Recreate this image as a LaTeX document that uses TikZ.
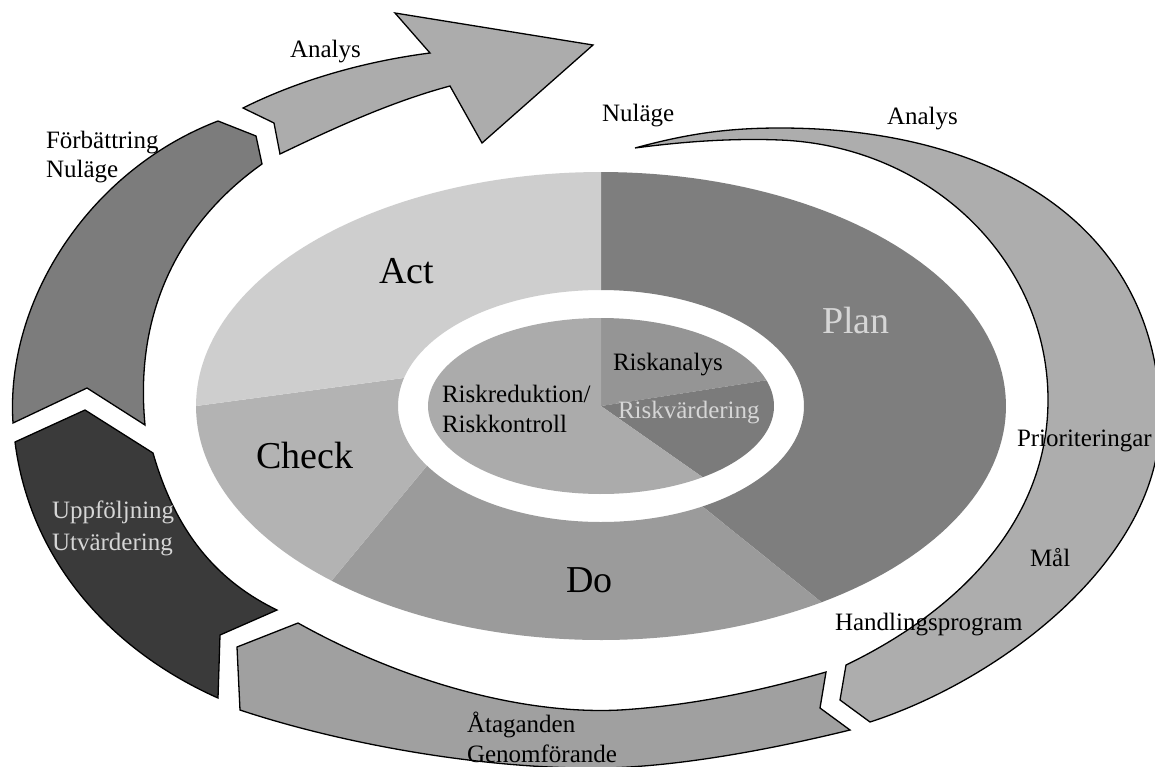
\documentclass[tikz,border=0pt]{standalone}
\usepackage{fontspec}
\setmainfont{Liberation Serif}
\definecolor{cAct}{HTML}{CECECE}
\definecolor{cPlan}{HTML}{7E7E7E}
\definecolor{cDo}{HTML}{9B9B9B}
\definecolor{cCheck}{HTML}{B3B3B3}
\definecolor{cRa}{HTML}{959595}
\definecolor{cRv}{HTML}{7B7B7B}
\definecolor{cRr}{HTML}{ABABAB}
\definecolor{cArrow}{HTML}{ACACAC}
\definecolor{cForb}{HTML}{7C7C7C}
\definecolor{cDark}{HTML}{3A3A3A}
\definecolor{cAtag}{HTML}{A0A0A0}
\definecolor{cCres}{HTML}{ADADAD}
\definecolor{cLightText}{HTML}{D6D6D6}
\begin{document}
\begin{tikzpicture}[x=1pt,y=-1pt,
  seg/.style={draw=black, line width=1.3pt},
  lab/.style={inner sep=0pt, outer sep=0pt, anchor=base west, font=\fontsize{25}{30}\selectfont},
  big/.style={inner sep=0pt, outer sep=0pt, anchor=base west, font=\fontsize{38}{44}\selectfont}]
\useasboundingbox (0,0) rectangle (1155,766);
\fill[white] (0,0) rectangle (1155,766);
\clip (0,0) rectangle (1155,766);

% ---------- central pie: outer ring ----------
\fill[cPlan] plot[domain=-90:57,samples=80,variable=\t] ({601+405*cos(\t)},{406+234*sin(\t)})
  -- plot[domain=60:-90,samples=80,variable=\t] ({601+203*cos(\t)},{406+116*sin(\t)}) -- cycle;
\fill[cDo] plot[domain=57:131.7,samples=60,variable=\t] ({601+405*cos(\t)},{406+234*sin(\t)})
  -- plot[domain=149:60,samples=60,variable=\t] ({601+203*cos(\t)},{406+116*sin(\t)}) -- cycle;
\fill[cCheck] plot[domain=131.7:180,samples=40,variable=\t] ({601+405*cos(\t)},{406+234*sin(\t)})
  -- plot[domain=194:149,samples=40,variable=\t] ({601+203*cos(\t)},{406+116*sin(\t)}) -- cycle;
\fill[cAct] plot[domain=180:270,samples=60,variable=\t] ({601+405*cos(\t)},{406+234*sin(\t)})
  -- plot[domain=270:194,samples=60,variable=\t] ({601+203*cos(\t)},{406+116*sin(\t)}) -- cycle;

% ---------- central pie: inner disc ----------
\fill[cRa] (601,406) -- plot[domain=-90:-17,samples=40,variable=\t] ({601+173*cos(\t)},{406+88*sin(\t)}) -- cycle;
\fill[cRv] (601,406) -- plot[domain=-17:54,samples=40,variable=\t] ({601+173*cos(\t)},{406+88*sin(\t)}) -- cycle;
\fill[cRr] (601,406) -- plot[domain=54:270,samples=90,variable=\t] ({601+173*cos(\t)},{406+88*sin(\t)}) -- cycle;

% ---------- outer cycle segments ----------
% Analys arrow (top)
\filldraw[seg, fill=cArrow] (243,108) -- (274,123) -- (280,154)
  .. controls (330,130) and (390,102) .. (450,86)
  -- (482,143) -- (593,45) -- (395,13) -- (430,53)
  .. controls (360,62) and (295,82) .. (243,108) -- cycle;

% Förbättring segment (upper left)
\filldraw[seg, fill=cForb] (218,121) -- (256,136) -- (262,164)
  .. controls (190,215) and (133,300) .. (145,425)
  -- (87,388) -- (13,423)
  .. controls (5,300) and (90,170) .. (218,121) -- cycle;

% Uppföljning segment (lower left, dark)
\filldraw[seg, fill=cDark] (15,442) -- (85,410) -- (153,453)
  .. controls (175,530) and (215,580) .. (277,610)
  -- (220,635) -- (218,698)
  .. controls (110,650) and (30,560) .. (15,442) -- cycle;

% Åtaganden segment (bottom)
\filldraw[seg, fill=cAtag] (298,623)
  .. controls (400,680) and (520,715) .. (620,710)
  .. controls (700,705) and (770,688) .. (826,672)
  -- (820,708) -- (850,730)
  .. controls (760,752) and (660,770) .. (580,768)
  .. controls (460,766) and (330,740) .. (240,710)
  -- (237,647) -- cycle;

% Plan crescent (right)
\filldraw[seg, fill=cCres] (635,148)
  .. controls (690,133) and (730,128) .. (780,128)
  .. controls (1000,128) and (1160,230) .. (1160,420)
  .. controls (1160,560) and (1000,680) .. (870,722)
  -- (840,700) -- (846,665)
  .. controls (960,610) and (1048,520) .. (1048,400)
  .. controls (1048,260) and (930,146) .. (780,140)
  .. controls (730,138) and (680,142) .. (635,148) -- cycle;

% ---------- labels ----------
\node[lab] (tAnalys1) at (290,57) {Analys};
\node[lab] (tForb) at (46,148) {Förbättring};
\node[lab] (tNul1) at (46,177) {Nuläge};
\node[lab] (tNul2) at (602,121) {Nuläge};
\node[lab] (tAnalys2) at (887,124) {Analys};
\node[lab] (tPrio) at (1017,446) {Prioriteringar};
\node[lab] (tMal) at (1030,566) {Mål};
\node[lab] (tHand) at (835,630) {Handlingsprogram};
\node[lab] (tAtag) at (467,732) {Åtaganden};
\node[lab] (tGenom) at (467,762) {Genomförande};
\node[lab, text=cLightText] (tUpp) at (52,518) {Uppföljning};
\node[lab, text=cLightText] (tUtv) at (52,550) {Utvärdering};
\node[lab] (tRa) at (613,370) {Riskanalys};
\node[lab, text=cLightText] (tRv) at (618,418) {Riskvärdering};
\node[lab] (tRr) at (442,402) {Riskreduktion/};
\node[lab] (tRk) at (442,432) {Riskkontroll};
\node[big] (tAct) at (379,283) {Act};
\node[big] (tCheck) at (256,468) {Check};
\node[big, text=cLightText] (tPlan) at (822,333) {Plan};
\node[big] (tDo) at (566,592) {Do};
\end{tikzpicture}
\end{document}
